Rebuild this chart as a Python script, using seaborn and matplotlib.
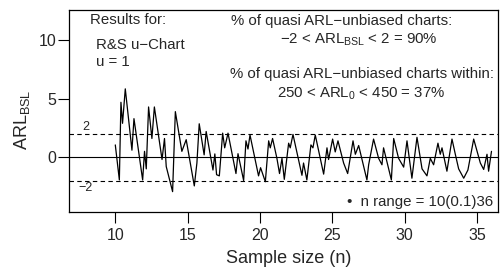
import matplotlib
matplotlib.use('Agg')
import matplotlib.pyplot as plt
import seaborn as sns
import pandas as pd

# Sample size (n) and ARL_BSL values (turning points of the line)
sample_size = [10.0, 10.28, 10.39, 10.5, 10.69, 11.15, 11.29, 11.89, 12.02, 12.14,
               12.3, 12.53, 12.7, 13.23, 13.4, 13.52, 13.96, 14.15, 14.6, 14.9,
               15.46, 15.64, 15.8, 16.14, 16.28, 16.75, 16.88, 17.0, 17.19, 17.42,
               17.56, 17.79, 18.34, 18.48, 18.87, 19.03, 19.17, 19.31, 19.9, 20.04,
               20.37, 20.6, 20.71, 20.87, 21.17, 21.35, 21.52, 21.68, 21.98, 22.09,
               22.28, 22.9, 23.01, 23.24, 23.52, 23.66, 23.82, 24.4, 24.63, 24.74,
               25.02, 25.2, 25.39, 25.78, 26.06, 26.43, 26.59, 26.82, 27.39, 27.51,
               27.85, 28.2, 28.43, 28.54, 29.08, 29.24, 29.58, 29.93, 30.16, 30.5,
               30.85, 31.2, 31.54, 31.77, 32.0, 32.3, 32.46, 32.58, 32.92, 33.27,
               33.5, 33.73, 34.08, 34.37, 34.77, 35.23, 35.46, 35.69, 35.8, 36.0]
arl_bsl = [1.05, -1.95, 4.7, 2.9, 5.85, 0.6, 3.3, -1.95, 0.5, -1.0,
           4.3, 1.6, 4.3, -0.2, 1.6, -0.8, -2.95, 3.9, 0.5, 1.5,
           -2.46, -0.5, 2.86, 0.2, 2.2, -1.1, 0.28, -1.5, -1.6, 2.06,
           0.8, 2.06, -1.4, 0.3, -2.0, 1.4, 0.7, 1.9, -1.6, -0.9,
           -2.1, 1.4, 0.8, 1.6, -0.1, -1.4, -0.1, -1.9, 1.2, 0.8,
           1.95, -1.55, -0.5, -1.95, 1.05, 0.8, 1.9, -1.45, 0.8, -0.2,
           1.55, 0.45, 1.4, -0.5, -1.4, 1.4, 0.25, 1.0, -1.95, -0.65,
           1.55, -0.1, -0.65, 0.8, -1.95, 1.6, -0.1, -0.85, 1.4, -1.8,
           1.7, -1.0, -1.6, -0.1, -0.65, 1.2, 0.25, 0.8, -1.2, 1.55,
           0.25, -1.0, -1.8, -1.1, 1.55, -0.5, -1.05, 0.25, -1.2, 0.5]

x_ticks = [10, 15, 20, 25, 30, 35]
y_ticks = [0, 5, 10]
limits = [-2, 2]

df = pd.DataFrame({'n': sample_size, 'arl_bsl': arl_bsl})

sns.set_style('ticks')
plt.rcParams['font.family'] = ['Liberation Sans', 'DejaVu Sans']
plt.rcParams['mathtext.fontset'] = 'custom'
plt.rcParams['mathtext.rm'] = 'Liberation Sans'
plt.rcParams['mathtext.it'] = 'Liberation Sans:italic'

fig = plt.figure(figsize=(5, 2.67), dpi=100)
ax = fig.add_axes([0.138, 0.207, 0.858, 0.7555])

sns.lineplot(data=df, x='n', y='arl_bsl', color='black', lw=0.9,
             estimator=None, sort=False, ax=ax)

# reference lines
ax.axhline(0, color='black', lw=0.8)
for lim in limits:
    ax.axhline(lim, color='black', lw=0.8, ls=(0, (4, 3)))
ax.text(0.040, 0.42, str(limits[1]), transform=ax.transAxes, fontsize=9,
        ha='center', va='center')
ax.text(0.038, 0.12, '\u2212' + str(abs(limits[0])), transform=ax.transAxes,
        fontsize=9, ha='center', va='center')

ax.set_xlim(6.8, 36.45)
ax.set_ylim(-4.67, 12.6)
ax.set_xticks(x_ticks)
ax.set_yticks(y_ticks)
ax.tick_params(axis='both', length=8, width=0.8, labelsize=11.5, color='black')
ax.tick_params(axis='x', pad=4)
ax.tick_params(axis='y', pad=1)
for s in ax.spines.values():
    s.set_color('black')
    s.set_linewidth(0.9)

ax.set_xlabel('Sample size (n)', fontsize=13)
ax.set_ylabel(r'ARL$_{\mathrm{BSL}}$', fontsize=13)
ax.xaxis.set_label_coords(0.512, -0.19)
ax.yaxis.set_label_coords(-0.086, 0.455)

# annotations
kw = dict(transform=ax.transAxes, fontsize=10.8, va='center')
ax.text(0.049, 0.950, 'Results for:', ha='left', **kw)
ax.text(0.063, 0.826, 'R&S u\u2212Chart', ha='left', **kw)
ax.text(0.063, 0.742, 'u = 1', ha='left', **kw)
ax.text(0.636, 0.946, '% of quasi ARL\u2212unbiased charts:', ha='center', **kw)
ax.text(0.675, 0.851, '\u22122 < ARL$_{\\mathrm{BSL}}$ < 2 = 90%', ha='center', **kw)
ax.text(0.682, 0.683, '% of quasi ARL\u2212unbiased charts within:', ha='center', **kw)
ax.text(0.682, 0.586, '250 < ARL$_{\\mathrm{0}}$ < 450 = 37%', ha='center', **kw)
ax.text(0.988, 0.05, '\u2022  n range = 10(0.1)36', ha='right', **kw)

fig.savefig('out.png', dpi=100)
